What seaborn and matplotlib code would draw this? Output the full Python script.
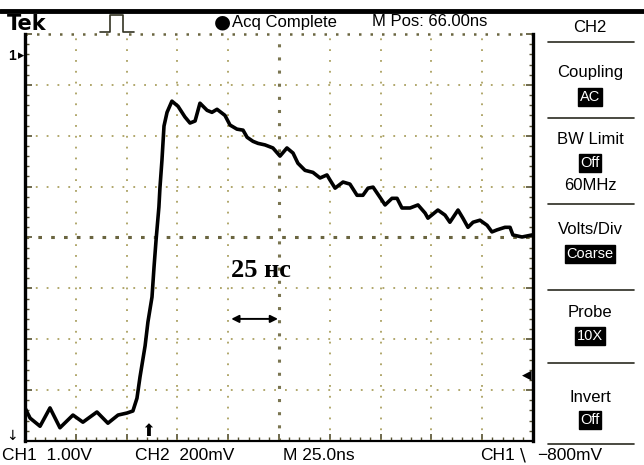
import numpy as np
import matplotlib
matplotlib.use("Agg")
import matplotlib.pyplot as plt
import seaborn as sns
import pandas as pd
from matplotlib.lines import Line2D

# trace: time in ns (25 ns/div), level in divisions (0..8)
time_ns = [0.0, 2.5, 7.4, 12.3, 17.2, 23.6, 28.5, 35.4, 40.8, 45.8, 50.2, 53.1,
           55.1, 56.6, 59.1, 60.5, 62.5, 63.5, 64.5, 65.9, 66.4, 67.4, 68.4, 69.9,
           72.3, 75.3, 78.7, 81.2, 83.7, 86.1, 89.6, 92.0, 94.5, 98.4, 100.9, 104.3,
           107.3, 109.3, 112.2, 114.7, 118.1, 122.0, 125.5, 128.9, 131.9, 134.3,
           137.8, 141.7, 145.2, 148.6, 150.1, 152.6, 156.5, 159.9, 163.4, 166.3,
           168.8, 171.3, 174.7, 177.2, 180.6, 183.1, 185.5, 189.5, 193.4, 196.9,
           198.3, 203.2, 206.7, 209.1, 213.1, 215.5, 218.0, 220.5, 223.9, 227.4,
           229.8, 232.3, 236.2, 238.7, 240.1, 244.6, 249.5]
level_div = [0.65, 0.45, 0.29, 0.65, 0.26, 0.51, 0.37, 0.57, 0.35, 0.51, 0.55, 0.59,
             0.84, 1.26, 1.87, 2.34, 2.83, 3.42, 3.95, 4.60, 4.97, 5.52, 6.19, 6.46,
             6.68, 6.58, 6.37, 6.25, 6.29, 6.64, 6.50, 6.46, 6.52, 6.40, 6.21, 6.13,
             6.11, 5.97, 5.89, 5.85, 5.82, 5.76, 5.60, 5.76, 5.66, 5.46,
             5.32, 5.28, 5.17, 5.23, 5.13, 4.97, 5.09, 5.05, 4.83, 4.83,
             4.97, 4.99, 4.79, 4.64, 4.77, 4.77, 4.58, 4.58, 4.64, 4.48,
             4.38, 4.54, 4.44, 4.30, 4.54, 4.38, 4.20, 4.30, 4.34, 4.24,
             4.11, 4.15, 4.20, 4.20, 4.05, 4.01, 4.05]

menu_items = [("CH2", None), ("Coupling", "AC"), ("BW Limit", "Off"),
              ("Volts/Div", "Coarse"), ("Probe", "10X"), ("Invert", "Off")]

W, H = 644, 465
sns.set_style("white")
plt.rcParams["font.family"] = ["Liberation Sans", "DejaVu Sans"]
plt.rcParams["text.color"] = "black"

fig = plt.figure(figsize=(W / 100, H / 100), dpi=100)
ax = fig.add_axes([25 / W, (H - 441) / H, 508 / W, 407 / H])

def fx(px):
    return px / W

def fy(py):
    return 1 - py / H

grid_col = "#aaa060"
for v in np.arange(25, 250, 25):
    if v == 125:
        continue
    ax.axvline(v, color=grid_col, lw=1.3, ls=(0, (1, 5)), zorder=1)
for v in range(1, 8):
    if v == 4:
        continue
    ax.axhline(v, color=grid_col, lw=1.3, ls=(0, (1, 5)), zorder=1)
# center cross, denser dots
ax.axvline(125, color="#7a7550", lw=2.2, ls=(0, (1, 3.3)), zorder=1)
ax.axhline(4, color="#6a6540", lw=2.2, ls=(0, (1.2, 3)), zorder=1)
ax.axhline(8, color="#6a6540", lw=1.8, ls=(0, (1, 3.6)), zorder=1, clip_on=False)

df = pd.DataFrame({"t": time_ns, "v": level_div})
sns.lineplot(data=df, x="t", y="v", color="black", lw=2.6, ax=ax, zorder=3,
             estimator=None, sort=False)

ax.set_xlim(0, 250)
ax.set_ylim(0, 8)
ax.set_xticks(np.arange(0, 251, 25))
ax.set_yticks(np.arange(0, 9, 1))
ax.set_xticks(np.arange(0, 251, 5), minor=True)
ax.set_yticks(np.arange(0, 8.01, 0.2), minor=True)
ax.tick_params(which="both", direction="in", labelbottom=False, labelleft=False,
               color="#555030", bottom=True, left=True, right=True, top=False)
ax.tick_params(which="minor", length=3, width=1)
ax.tick_params(which="major", length=5, width=1.2)
ax.set_xlabel("")
ax.set_ylabel("")
ax.spines["top"].set_visible(False)
ax.spines["left"].set_linewidth(2.4)
ax.spines["right"].set_linewidth(2.4)
ax.spines["bottom"].set_linewidth(1.6)
for s in ("left", "right", "bottom"):
    ax.spines[s].set_color("black")

# "25 нс" scale annotation
ax.text(101.5, 3.35, "25 нс", fontsize=19, fontweight="bold",
        family=["Liberation Serif", "DejaVu Serif"], ha="left", va="center")
ax.annotate("", xy=(124.5, 2.4), xytext=(101.5, 2.4),
            arrowprops=dict(arrowstyle="<|-|>", color="black", lw=1.4,
                            mutation_scale=11, shrinkA=0, shrinkB=0))

# top header bar
fig.add_artist(Line2D([0, 1], [fy(11), fy(11)], color="black", lw=3.5))
fig.text(fx(7), fy(24), "Tek", fontsize=15, fontweight="bold",
         family=["DejaVu Sans"], va="center", ha="left")
fig.add_artist(Line2D([fx(100), fx(110), fx(110), fx(123), fx(123), fx(134)],
                      [fy(32), fy(32), fy(15), fy(15), fy(32), fy(32)],
                      color="#333322", lw=1.2))
fig.text(fx(222), fy(22), "●", fontsize=14, va="center", ha="center",
         family=["DejaVu Sans"])
fig.text(fx(232), fy(22), "Acq Complete", fontsize=12, va="center", ha="left")
fig.text(fx(372), fy(22), "M Pos: 66.00ns", fontsize=12, va="center", ha="left")

# right-hand menu
xm = 590
fig.text(fx(xm), fy(28), "CH2", fontsize=12, ha="center", va="center")
labels_y = [72, 140, 229, 312, 397]
boxes_y = [97, 163, 254, 336, 420]
for (name, val), ly, by in zip(menu_items[1:], labels_y, boxes_y):
    fig.text(fx(xm), fy(ly), name, fontsize=12, ha="center", va="center")
    fig.text(fx(xm), fy(by), val, fontsize=10.5, ha="center", va="center",
             color="white", bbox=dict(boxstyle="square,pad=0.12",
                                      fc="black", ec="black"))
fig.text(fx(xm), fy(185), "60MHz", fontsize=12, ha="center", va="center")
for ly in [42, 118, 204, 290, 363, 444]:
    fig.add_artist(Line2D([fx(548), fx(634)], [fy(ly), fy(ly)],
                          color="#2a2a20", lw=1.2))

# bottom status line
fig.text(fx(2), fy(455), "CH1  1.00V", fontsize=12.5, ha="left", va="center")
fig.text(fx(135), fy(455), "CH2  200mV", fontsize=12.5, ha="left", va="center")
fig.text(fx(283), fy(455), "M 25.0ns", fontsize=12.5, ha="left", va="center")
fig.text(fx(480), fy(455), "CH1", fontsize=12.5, ha="left", va="center")
fig.text(fx(520), fy(455), "\\", fontsize=12.5, ha="left", va="center",
         family=["DejaVu Sans"])
fig.text(fx(537), fy(455), "−800mV", fontsize=12.5, ha="left", va="center")

# channel / trigger markers
fig.text(fx(8), fy(56), "1", fontsize=10, fontweight="bold", ha="left", va="center")
fig.text(fx(18), fy(56), "▸", fontsize=9, ha="left", va="center",
         family=["DejaVu Sans"])
fig.text(fx(12), fy(436), "↓", fontsize=10, ha="center", va="center",
         family=["DejaVu Sans"])
fig.text(fx(148), fy(431), "⬆", fontsize=12, ha="center", va="center",
         family=["DejaVu Sans"])
fig.text(fx(527), fy(375), "◀", fontsize=9, ha="center", va="center",
         family=["DejaVu Sans"])

fig.savefig("out.png", dpi=100, facecolor="white")
